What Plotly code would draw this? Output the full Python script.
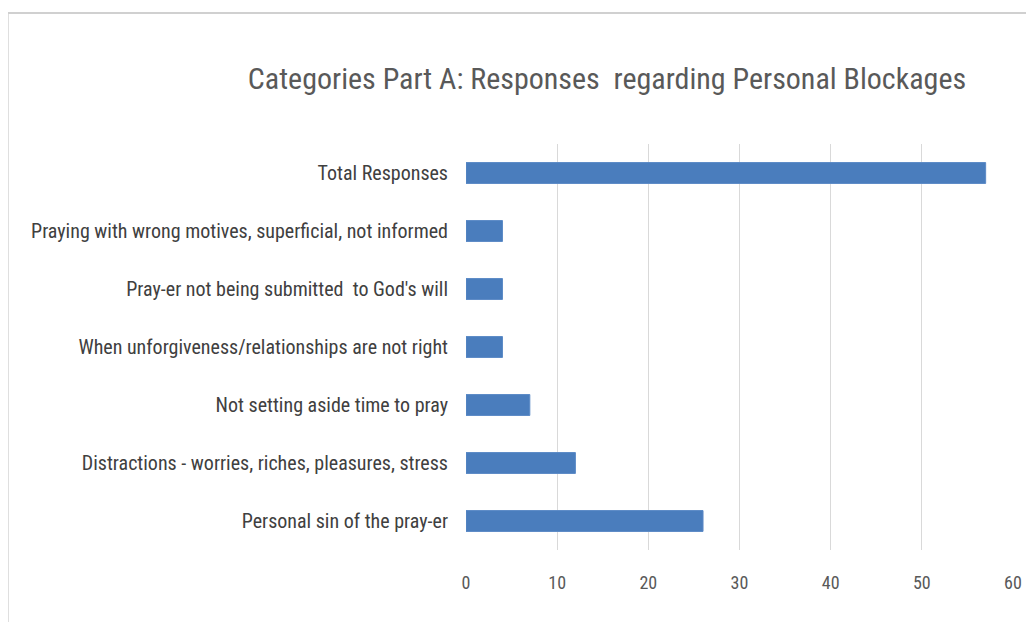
import plotly.graph_objects as go

categories = [
    "Total Responses",
    "Praying with wrong motives, superficial, not informed",
    "Pray-er not being submitted  to God's will",
    "When unforgiveness/relationships are not right",
    "Not setting aside time to pray",
    "Distractions - worries, riches, pleasures, stress",
    "Personal sin of the pray-er",
]
values = [57, 4, 4, 4, 7, 12, 26]
x_ticks = [0, 10, 20, 30, 40, 50, 60]

FONT = "Liberation Sans Narrow, Roboto Condensed, DejaVu Sans Condensed, sans-serif"

fig = go.Figure(
    go.Bar(
        y=categories,
        x=values,
        orientation="h",
        marker=dict(color="#4a7dbd", line=dict(color="#5b8ac6", width=1)),
    )
)

OFF = 8  # page body margin
W, H = 1034 - OFF, 622 - OFF
L, R, T, B = 466 - OFF, 1034 - 1015, 144 - OFF, 622 - 550
pw, ph = W - L - R, H - T - B

def px_x(p):
    return (p - OFF - L) / pw

def px_y(p):
    return (H - B - (p - OFF)) / ph

fig.update_layout(
    width=W,
    height=H,
    margin=dict(l=L, r=R, t=T, b=B),
    paper_bgcolor="white",
    plot_bgcolor="white",
    bargap=0.64,
    showlegend=False,
    font=dict(family=FONT, color="#595959", size=17),
    title=dict(
        text="Categories Part A: Responses  regarding Personal Blockages",
        x=(607 - OFF) / W,
        xanchor="center",
        y=1 - (78 - OFF) / H,
        yanchor="middle",
        yref="container",
        font=dict(family=FONT, size=30, color="#595959"),
    ),
    xaxis=dict(
        range=[0, 60],
        tickvals=x_ticks,
        showgrid=True,
        gridcolor="#d9d9d9",
        gridwidth=1,
        zeroline=False,
        showline=False,
        ticks="",
        ticklabelstandoff=20,
        tickfont=dict(size=18, color="#595959"),
    ),
    yaxis=dict(
        autorange="reversed",
        showgrid=False,
        zeroline=False,
        showline=False,
        ticks="",
        ticklabelstandoff=17,
        tickfont=dict(size=20, color="#404040"),
    ),
    shapes=[
        dict(type="line", xref="paper", yref="paper",
             x0=px_x(6), x1=px_x(1040), y0=px_y(13), y1=px_y(13),
             line=dict(color="#d0d0d0", width=2)),
        dict(type="line", xref="paper", yref="paper",
             x0=px_x(6), x1=px_x(6), y0=px_y(13), y1=px_y(630),
             line=dict(color="#d0d0d0", width=2)),
    ],
)

fig.write_html("out.html")
